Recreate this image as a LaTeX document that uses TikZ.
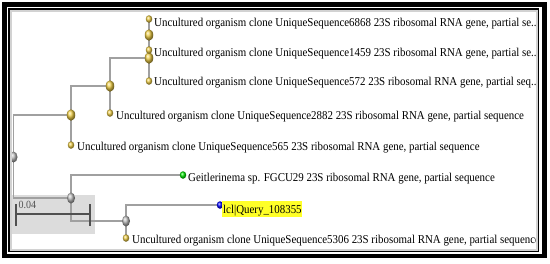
\documentclass[tikz,border=0pt]{standalone}
\usepackage{fontspec}
\setmainfont{Liberation Serif}
\usetikzlibrary{shapes.geometric}
\definecolor{gold}{RGB}{238,205,70}
\definecolor{brgrey}{RGB}{160,160,160}
\definecolor{boxgrey}{RGB}{220,220,220}
\definecolor{bargrey}{RGB}{80,80,80}
\definecolor{hl}{RGB}{255,255,40}
\begin{document}
\begin{tikzpicture}[x=1pt,y=-1pt,
  branch/.style={draw=brgrey,line width=1.2pt},
  dotbase/.style={ellipse,inner sep=0pt,shading=ball},
  leafdot/.style={dotbase,minimum width=6.5pt,minimum height=7.5pt,ball color=gold},
  innode/.style={dotbase,minimum width=8.5pt,minimum height=11.5pt,ball color=gold},
  grnode/.style={dotbase,minimum width=8pt,minimum height=11pt,ball color=gray!55},
  grleaf/.style={dotbase,minimum width=6.5pt,minimum height=7.5pt,ball color=green!90!black},
  blleaf/.style={dotbase,minimum width=6.5pt,minimum height=7.5pt,ball color=blue},
  lbl/.style={anchor=base west,inner sep=0pt,font=\fontsize{10.9}{12}\selectfont,yscale=1.1},
  scalebar/.style={draw=bargrey,line width=2pt}]
\useasboundingbox (0,0) rectangle (550,263);
\fill[white] (0,0) rectangle (550,263);
% coordinates
\coordinate (root) at (13.5,157);
\coordinate (A) at (71,115);
\coordinate (l565) at (71,145);
\coordinate (B) at (110,86);
\coordinate (l2882) at (110,113);
\coordinate (C) at (149,58);
\coordinate (l572) at (149,81);
\coordinate (D) at (149,35);
\coordinate (l6868) at (149,19);
\coordinate (l1459) at (149,50);
\coordinate (E) at (71,198);
\coordinate (geit) at (183,175);
\coordinate (F) at (126,221);
\coordinate (query) at (220,205);
\coordinate (l5306) at (126,238);
\begin{scope}
\clip (9.2,9.2) rectangle (537.8,250.8);
% scale box
\fill[boxgrey] (5,195) rectangle (95,234);
% branches
\draw[branch] (root) |- (A);
\draw[branch] (root) |- (E);
\draw[branch] (A) |- (B);
\draw[branch] (A) -- (l565);
\draw[branch] (B) |- (C);
\draw[branch] (B) -- (l2882);
\draw[branch] (C) -- (D);
\draw[branch] (C) -- (l572);
\draw[branch] (D) -- (l6868);
\draw[branch] (D) -- (l1459);
\draw[branch] (E) |- (geit);
\draw[branch] (E) |- (F);
\draw[branch] (F) |- (query);
\draw[branch] (F) -- (l5306);
% scale bar
\draw[scalebar] (16,214) -- (90,214);
\draw[scalebar] (16,204) -- (16,226);
\draw[scalebar] (90,204) -- (90,226);
\node[anchor=base west,inner sep=0pt,font=\fontsize{10}{11}\selectfont,yscale=1.1,text=bargrey] (sc) at (18.5,208) {0.04};
% dots
\node[grnode] (nroot) at (root) {};
\node[innode] (nA) at (A) {};
\node[leafdot] (n565) at (l565) {};
\node[innode] (nB) at (B) {};
\node[leafdot] (n2882) at (l2882) {};
\node[innode] (nC) at (C) {};
\node[leafdot] (n572) at (l572) {};
\node[leafdot] (n6868) at (l6868) {};
\node[leafdot] (n1459) at (l1459) {};
\node[innode] (nD) at (D) {};
\node[grnode] (nE) at (E) {};
\node[grleaf] (ngeit) at (geit) {};
\node[grnode] (nF) at (F) {};
\node[blleaf] (nq) at (query) {};
\node[leafdot] (n5306) at (l5306) {};
% labels
\node[lbl] (t6868) at (154,26.5) {Uncultured organism clone UniqueSequence6868 23S ribosomal RNA gene, partial se...};
\node[lbl] (t1459) at (154,56.5) {Uncultured organism clone UniqueSequence1459 23S ribosomal RNA gene, partial se...};
\node[lbl] (t572) at (154,85.5) {Uncultured organism clone UniqueSequence572 23S ribosomal RNA gene, partial seq...};
\node[lbl] (t2882) at (116,119) {Uncultured organism clone UniqueSequence2882 23S ribosomal RNA gene, partial sequence};
\node[lbl] (t565) at (77,150) {Uncultured organism clone UniqueSequence565 23S ribosomal RNA gene, partial sequence};
\node[lbl] (tgeit) at (188,181.5) {Geitlerinema sp. FGCU29 23S ribosomal RNA gene, partial sequence};
\fill[hl] (221.7,200.7) rectangle (301.7,216.7);
\node[lbl] (tq) at (223,213) {lcl|Query\_108355};
\node[lbl] (t5306) at (132,243) {Uncultured organism clone UniqueSequence5306 23S ribosomal RNA gene, partial sequence};
\end{scope}
% frame
\draw[gray!35,line width=2pt] (10.8,10.8) rectangle (536.8,249.6);
\draw[black,line width=1.4pt] (8.9,8.9) rectangle (538.6,251.4);
\draw[black,line width=4.6pt] (4.2,4.7) rectangle (544.2,255.9);
\end{tikzpicture}
\end{document}
